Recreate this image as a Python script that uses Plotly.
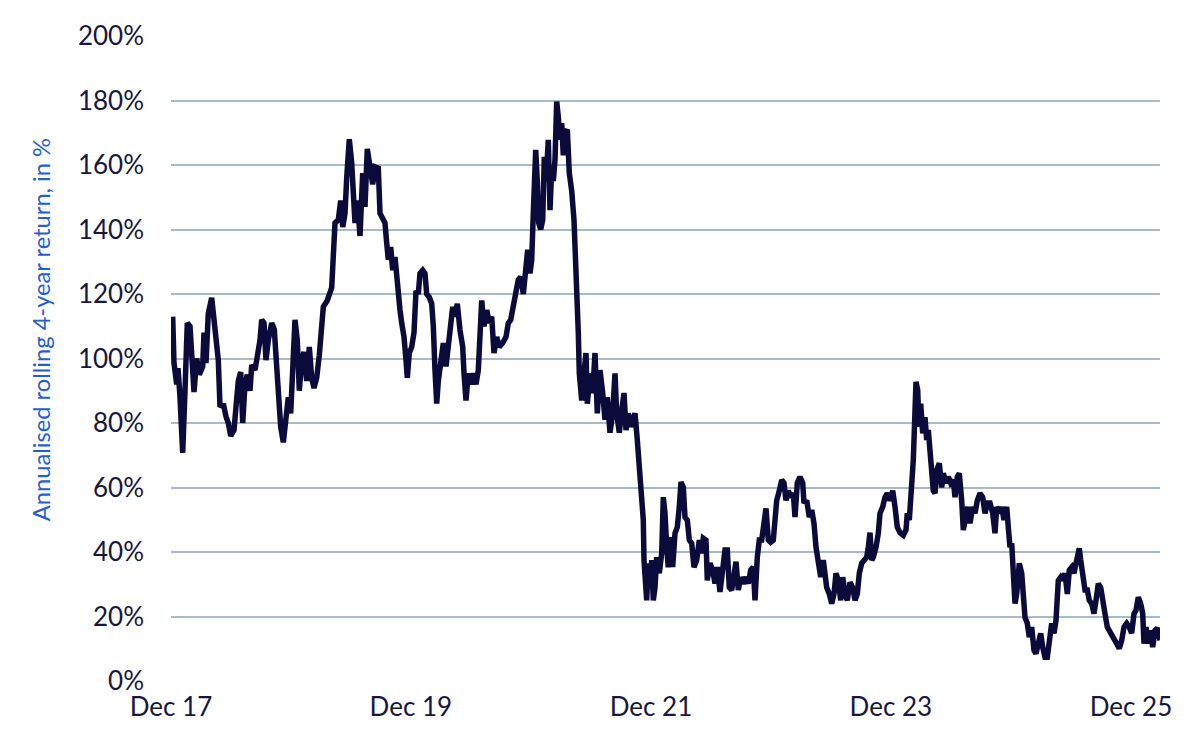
import pandas as pd
import plotly.graph_objects as go

# months since Dec 2017 and the rolling return in %
months = [
    0.17, 0.30, 0.57, 0.70, 0.90, 1.17, 1.40, 1.63, 1.90, 2.07, 2.30, 2.57, 2.83, 3.17, 3.30, 3.50,
    3.73, 4.07, 4.40, 4.73, 4.90, 5.23, 5.50, 5.73, 5.97, 6.30, 6.50, 6.73, 6.97, 7.17, 7.40, 7.63,
    7.90, 8.07, 8.40, 8.63, 8.90, 9.07, 9.30, 9.50, 9.73, 10.07, 10.33, 10.57, 10.73, 10.97, 11.23,
    11.50, 11.73, 11.97, 12.17, 12.40, 12.63, 12.83, 13.07, 13.30, 13.57, 13.83, 14.07, 14.30, 14.57,
    14.83, 15.23, 15.63, 16.07, 16.23, 16.40, 16.73, 16.97, 17.17, 17.40, 17.57, 17.83, 18.07, 18.23,
    18.40, 18.63, 18.90, 19.17, 19.40, 19.63, 19.90, 20.17, 20.40, 20.73, 20.90, 21.17, 21.40, 21.57,
    21.73, 21.97, 22.17, 22.40, 22.57, 22.73, 22.90, 23.07, 23.30, 23.50, 23.63, 23.83, 24.07, 24.30,
    24.50, 24.73, 24.90, 25.17, 25.40, 25.57, 25.83, 26.07, 26.23, 26.40, 26.57, 26.73, 26.97, 27.23,
    27.50, 27.73, 27.97, 28.17, 28.40, 28.63, 28.90, 29.17, 29.30, 29.50, 29.73, 29.97, 30.23, 30.50,
    30.73, 31.07, 31.30, 31.57, 31.83, 32.07, 32.30, 32.57, 32.83, 33.17, 33.50, 33.73, 33.97, 34.23,
    34.50, 34.73, 34.97, 35.23, 35.50, 35.67, 35.90, 36.07, 36.23, 36.33, 36.47, 36.63, 36.77, 36.97,
    37.17, 37.33, 37.50, 37.73, 37.90, 38.07, 38.23, 38.40, 38.57, 38.73, 38.90, 39.07, 39.23, 39.40,
    39.63, 39.83, 40.07, 40.30, 40.57, 40.73, 40.83, 41.07, 41.30, 41.50, 41.63, 41.90, 42.17, 42.40,
    42.63, 42.90, 43.17, 43.40, 43.63, 43.90, 44.17, 44.40, 44.57, 44.83, 45.07, 45.30, 45.50, 45.73,
    45.97, 46.23, 46.40, 46.63, 46.83, 47.07, 47.23, 47.30, 47.40, 47.57, 47.73, 47.90, 48.07, 48.23,
    48.40, 48.57, 48.83, 49.07, 49.23, 49.40, 49.57, 49.73, 49.97, 50.17, 50.40, 50.63, 50.83, 51.00,
    51.23, 51.40, 51.63, 51.83, 52.07, 52.30, 52.57, 52.83, 53.07, 53.23, 53.50, 53.63, 53.90, 54.17,
    54.40, 54.63, 54.90, 55.17, 55.40, 55.63, 55.83, 56.07, 56.30, 56.50, 56.73, 56.97, 57.23, 57.50,
    57.73, 57.97, 58.23, 58.40, 58.63, 58.83, 59.07, 59.23, 59.50, 59.73, 59.97, 60.23, 60.40, 60.57,
    60.83, 61.07, 61.30, 61.50, 61.73, 61.97, 62.23, 62.40, 62.63, 62.90, 63.17, 63.30, 63.57, 63.83,
    64.07, 64.30, 64.50, 64.73, 64.97, 65.23, 65.57, 65.83, 66.07, 66.30, 66.50, 66.73, 66.97, 67.17,
    67.40, 67.63, 67.90, 68.17, 68.40, 68.63, 68.83, 69.07, 69.30, 69.57, 69.73, 69.90, 70.07, 70.23,
    70.50, 70.73, 70.90, 71.17, 71.40, 71.63, 71.90, 72.17, 72.40, 72.63, 72.90, 73.23, 73.50, 73.63,
    73.83, 74.07, 74.23, 74.37, 74.50, 74.67, 74.80, 74.97, 75.17, 75.40, 75.57, 75.73, 75.90, 76.07,
    76.23, 76.40, 76.57, 76.83, 77.07, 77.23, 77.50, 77.73, 77.97, 78.23, 78.40, 78.63, 78.83, 79.07,
    79.23, 79.47, 79.67, 79.90, 80.17, 80.40, 80.63, 80.90, 81.17, 81.40, 81.63, 81.90, 82.17, 82.40,
    82.57, 82.83, 83.07, 83.30, 83.57, 83.73, 83.90, 84.07, 84.23, 84.40, 84.57, 84.83, 85.07, 85.23,
    85.40, 85.63, 85.83, 86.07, 86.30, 86.50, 86.73, 86.97, 87.17, 87.40, 87.63, 87.83, 88.07, 88.30,
    88.50, 88.73, 88.97, 89.17, 89.40, 89.63, 89.83, 90.07, 90.30, 90.50, 90.63, 90.83, 90.97, 91.17,
    91.40, 91.63, 91.83, 92.07, 92.30, 92.50, 92.73, 92.97, 93.17, 93.40, 93.63, 93.83, 94.07, 94.30,
    94.57, 94.83, 95.07, 95.30, 95.57, 95.83, 96.07, 96.30, 96.50, 96.73, 96.97, 97.17, 97.30, 97.50,
    97.73, 97.97, 98.17, 98.40, 98.63, 98.90,
]

returns = [
    113, 98.6, 92, 97, 88, 70.7, 90, 111, 110, 100, 89.6, 100, 95, 97.5, 108, 98.6,
    114, 118.8, 109, 99.5, 85, 86, 82, 80, 76, 77.8, 85, 93, 95.8, 80, 92, 95,
    90, 98, 96.4, 100, 105.7, 112, 111, 99.5, 105.7, 111, 109, 97.5, 87, 78.8, 74,
    80, 88, 83, 94, 112, 105.7, 90, 99.5, 102, 93, 103.6, 94, 90.8, 94,
    101, 116, 118, 122, 132.6, 142, 143, 149, 140.8, 145, 156, 168, 160.6, 153,
    142, 149, 138, 157.5, 147, 165, 158.5, 154, 159.4, 159, 145, 143, 142, 135.8,
    130.6, 134.6, 127.4, 131.5, 124.4, 119, 115, 111, 106.7, 99.5, 94, 101.7, 103.6, 108,
    121, 120, 126.4, 127.4, 126.4, 120, 119, 117, 110, 96.4, 86, 93, 98.6, 104.8,
    97.5, 103.6, 110, 116, 113, 117, 108.8, 103.6, 95.4, 87, 95.4, 92, 95.4, 92,
    96.4, 118, 110, 115, 111, 113, 101.7, 106.7, 103.6, 104.8, 106.7, 111, 112, 116,
    120, 124.4, 125.3, 120, 128.4, 133.7, 126.4, 130.6, 145, 157.5, 164.7, 155, 142, 140,
    143, 162.5, 155, 167.8, 146, 158.5, 155, 161.6, 179.7, 175, 167.8, 173, 163, 170,
    171, 157.5, 152, 143, 124.4, 108, 95.4, 87, 95.4, 101.7, 86, 95.4, 89.3, 101.7,
    83, 96.4, 89.3, 81, 88, 77, 83, 95.4, 83, 77, 84, 89.3, 77.8, 83,
    78.8, 81, 83, 74.7, 64.4, 58.2, 49.9, 37.5, 28.2, 25, 36.5, 29, 37.5, 25,
    29, 38.4, 33.4, 39.6, 57, 52, 41.5, 35.3, 44.6, 35.3, 45.8, 47.7, 54, 61.7,
    60, 50.8, 49.9, 43.7, 42.7, 35.3, 37.5, 43.7, 39.6, 44.3, 43.7, 31.2, 36.5, 34.4,
    30.2, 35.3, 27.6, 34.4, 40.6, 40.6, 29, 28.2, 34.4, 37, 28.2, 32.2, 30.2, 32.2,
    30.2, 34.4, 35.3, 25, 38.4, 43.7, 43.7, 48.9, 53.5, 43.7, 43, 43.7, 52, 56,
    59, 62.3, 61.4, 56, 59, 57, 58.2, 50.8, 61.4, 63.3, 61.4, 55.2, 56, 50.8,
    53, 48.9, 41.5, 35.3, 32.2, 37.5, 29, 27, 24, 27, 33.4, 31.2, 25, 32.2,
    27, 25, 30.6, 29, 25, 27, 33.4, 36.5, 37.5, 38.4, 41.5, 46, 37.5, 38.4,
    41.5, 45.8, 52, 54, 57, 58.2, 56, 59, 54, 47.7, 46, 45.2, 46.8, 52,
    49.9, 58.2, 68.5, 81, 92.8, 90.2, 78.8, 86, 76.8, 81.8, 74.7, 77.8, 71.6, 68.5,
    59, 58.2, 65.4, 67.5, 60, 64.4, 61.4, 63.3, 61.4, 62.3, 57, 63.3, 64.4, 56,
    46.8, 50.8, 54, 48.9, 54, 52, 56, 58.2, 57, 52, 55.2, 55.2, 52, 45.8,
    54, 52, 54, 49.9, 54, 47.7, 41.5, 42.7, 31.2, 24, 27, 36.5, 33.4, 25,
    19.7, 17.9, 13.6, 16.7, 9.5, 8.5, 12.6, 14.8, 10.5, 7.4, 7.4, 13.6, 17.9, 14.8,
    18.8, 31.2, 32.2, 31.2, 33.4, 27, 34.4, 35.3, 33.4, 36.5, 39.6, 41.1, 37.5, 31.2,
    28.2, 28.2, 25, 24, 20.9, 25, 30.2, 29, 26, 20.9, 16.7, 15.7, 14.8, 13.6,
    11.6, 10.1, 12.6, 16.7, 17.9, 16.7, 14.8, 20.9, 21.9, 26, 24, 20.9, 11.6, 16.7,
    11.6, 15.7, 10.5, 15.7, 16.4, 12.6,
]

tick_dates = ["2017-12-01", "2019-12-01", "2021-12-01", "2023-12-01", "2025-12-01"]
tick_labels = ["Dec 17", "Dec 19", "Dec 21", "Dec 23", "Dec 25"]

start = pd.Timestamp("2017-12-01")
df = pd.DataFrame({"months": months, "ret": returns})
df["date"] = start + pd.to_timedelta(df["months"] * 30.4375, unit="D")

font = "Lato, 'Open Sans', sans-serif"
navy = "#0b0a3a"

fig = go.Figure()
fig.add_trace(go.Scatter(
    x=df["date"],
    y=df["ret"],
    mode="lines",
    line=dict(color=navy, width=5.5),
    showlegend=False,
))

x_end = start + pd.to_timedelta(98.9 * 30.4375, unit="D")

# page body has an 8px default margin, so the margins are shifted by it
fig.update_layout(
    width=1200, height=753,
    margin=dict(l=163, r=48, t=28, b=80),
    paper_bgcolor="white",
    plot_bgcolor="white",
    font=dict(family=font, size=26, color="#16163f"),
    xaxis=dict(
        type="date",
        range=[start, x_end],
        tickvals=tick_dates,
        ticktext=tick_labels,
        showgrid=False,
        zeroline=False,
        showline=False,
        ticks="",
        ticklabelstandoff=8,
    ),
    yaxis=dict(
        range=[0, 200],
        tickvals=list(range(0, 201, 20)),
        ticktext=[f"{v}%" for v in range(0, 201, 20)],
        showgrid=True,
        gridcolor="#abbac9",
        gridwidth=2,
        zeroline=False,
        showline=False,
        ticks="",
        ticklabelstandoff=26,
    ),
    annotations=[dict(
        text="Annualised rolling 4-year return, in %",
        xref="paper", yref="paper",
        x=-0.1314, y=0.544,
        xanchor="center", yanchor="middle",
        textangle=-90,
        showarrow=False,
        font=dict(family=font, size=23.7, color="#1f5fcf"),
    )],
)

fig.write_html("out.html")
